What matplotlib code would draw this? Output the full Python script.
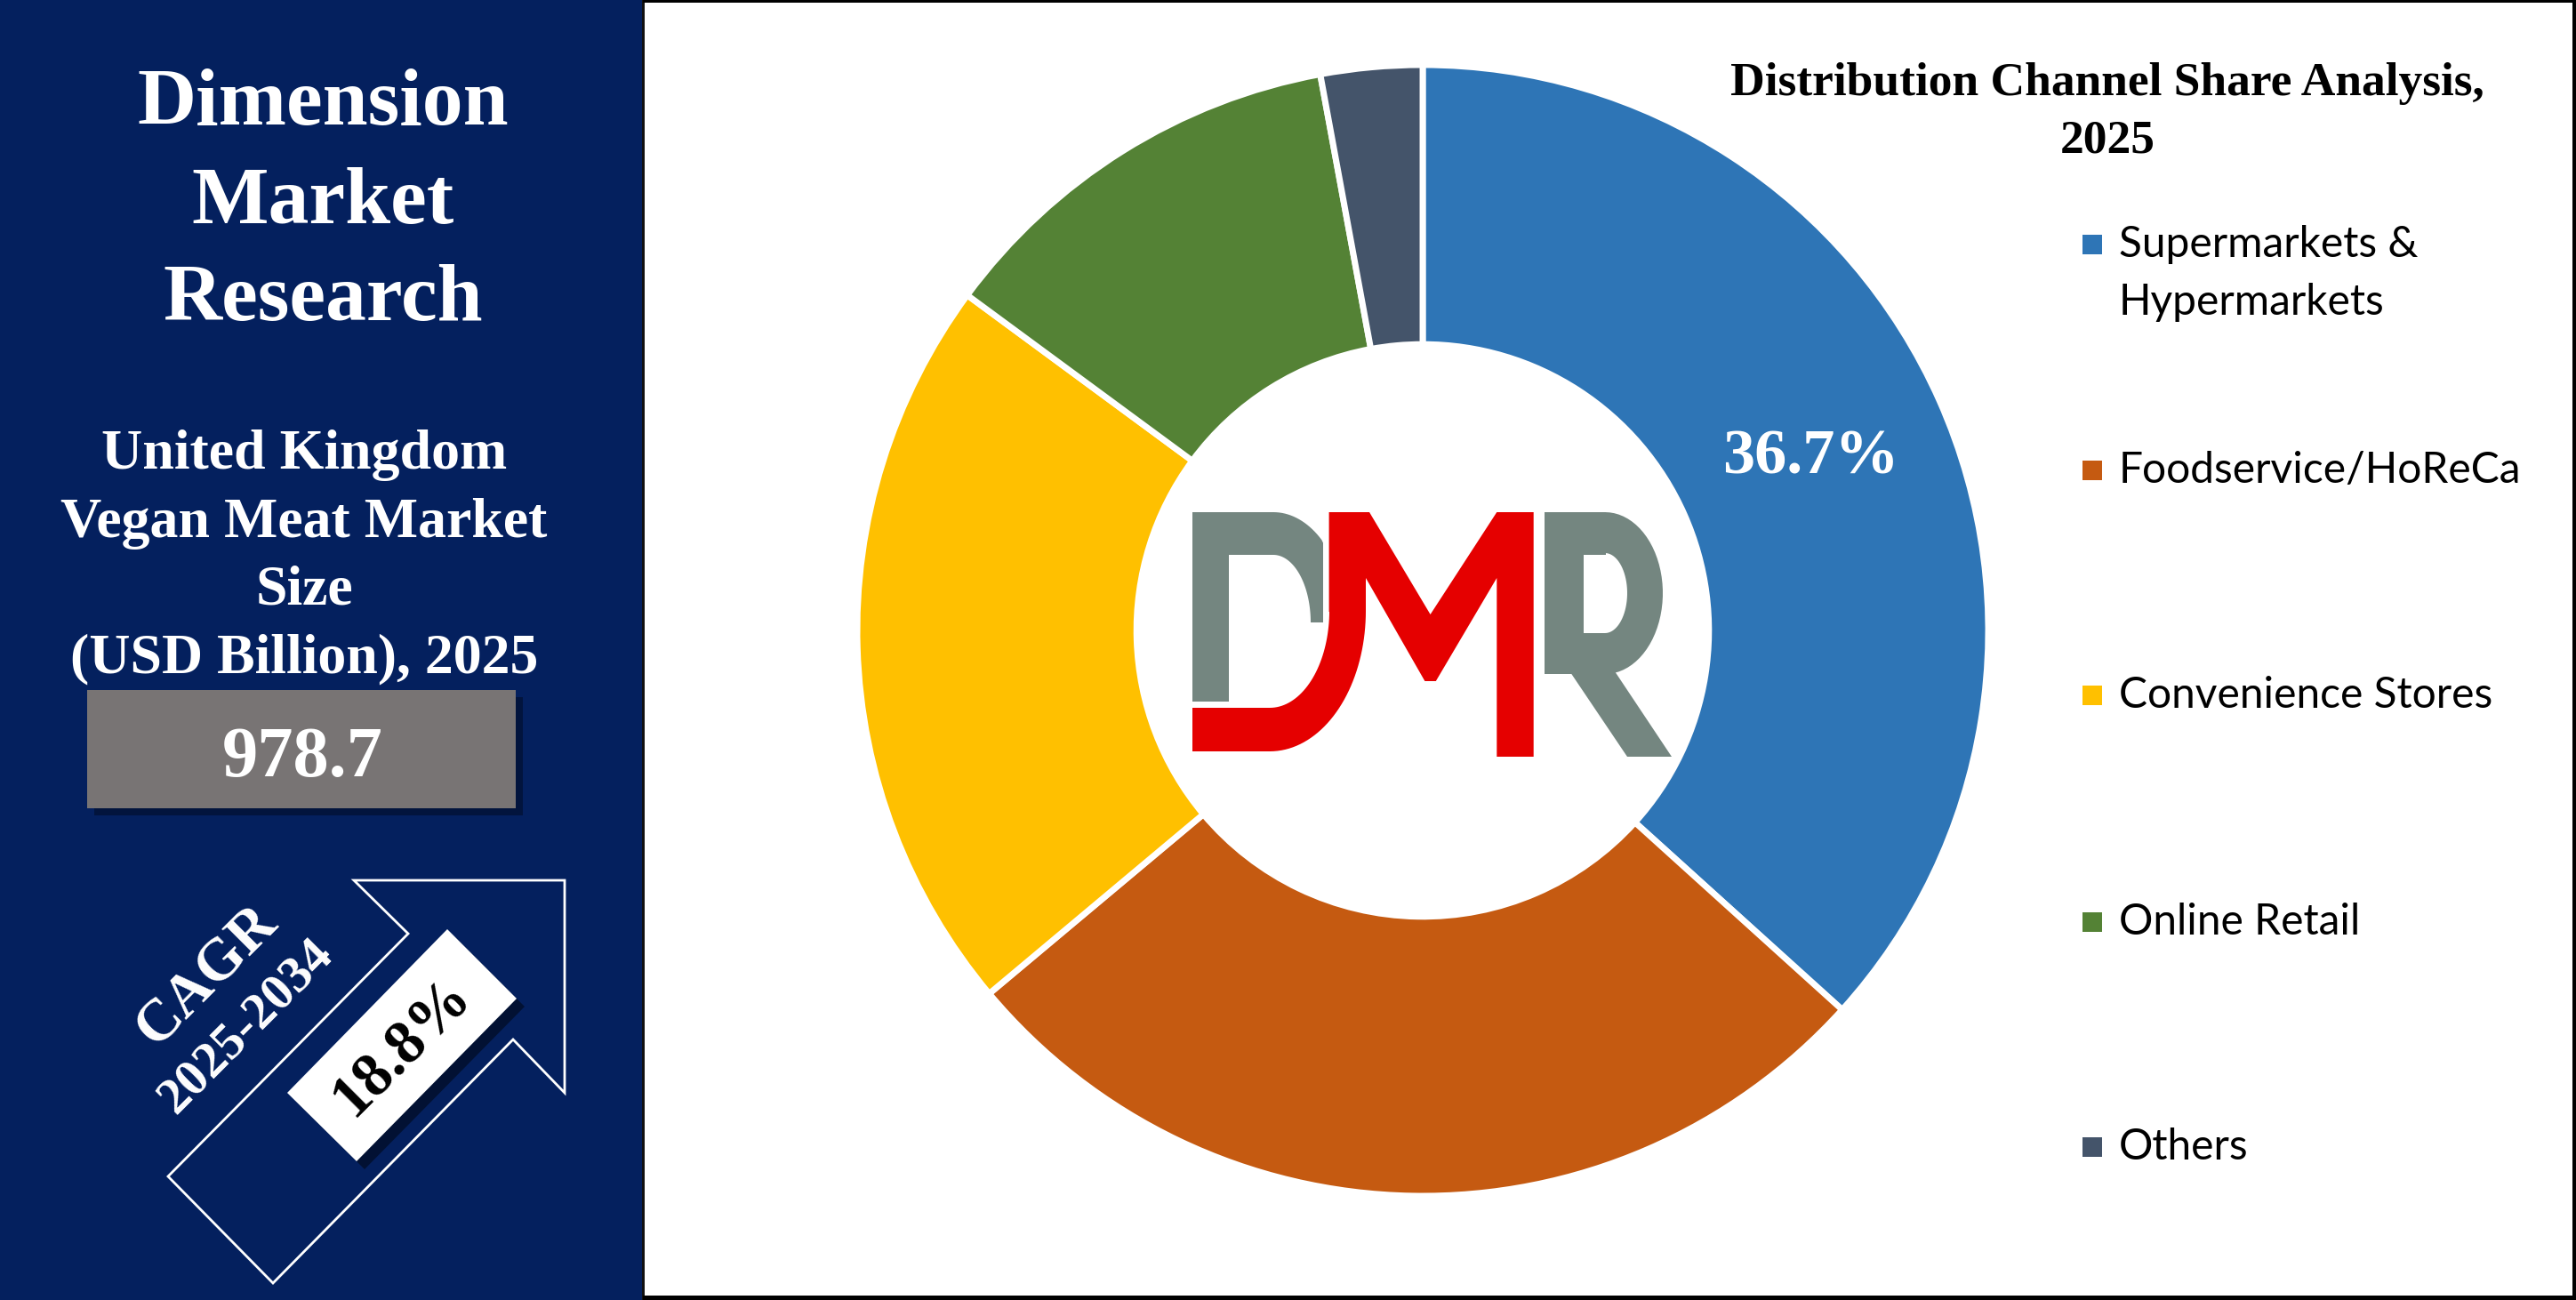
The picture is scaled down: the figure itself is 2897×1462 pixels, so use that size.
import numpy as np
import matplotlib.pyplot as plt
from matplotlib.patches import Rectangle, Polygon

W, H = 2897, 1462

# data
channels = ['Supermarkets &\nHypermarkets', 'Foodservice/HoReCa', 'Convenience Stores',
            'Online Retail', 'Others']
shares = [36.7, 27.2, 21.2, 12.0, 2.9]
colors = ['#2E75B6', '#C55A11', '#FFC000', '#548235', '#44546A']
market_size = '978.7'
cagr = '18.8%'
cagr_period = '2025-2034'
brand_lines = ['Dimension', 'Market', 'Research']
size_lines = ['United Kingdom', 'Vegan Meat Market', 'Size', '(USD Billion), 2025']
chart_title = ['Distribution Channel Share Analysis,', '2025']

serif = ['Liberation Serif', 'DejaVu Serif']
sans = ['Lato', 'DejaVu Sans']
navy = '#04205E'

fig = plt.figure(figsize=(W / 100, H / 100), dpi=100)
fig.patch.set_facecolor('white')

# overlay axes in pixel coords (y down)
ov = fig.add_axes([0, 0, 1, 1])
ov.set_xlim(0, W)
ov.set_ylim(H, 0)
ov.axis('off')

# left panel
ov.add_patch(Rectangle((0, 0), 723, H, fc=navy, ec='none'))
# frame of the chart panel
ov.add_patch(Rectangle((722, 0), 3, H, fc='#111111', ec='none'))
ov.add_patch(Rectangle((723, 0), W - 723, 3, fc='black', ec='none'))
ov.add_patch(Rectangle((723, 1457), W - 723, 5, fc='black', ec='none'))
ov.add_patch(Rectangle((2893, 0), 4, H, fc='black', ec='none'))

for txt, yb in zip(brand_lines, [140, 251, 360]):
    ov.text(363, yb, txt, ha='center', va='baseline', fontsize=66, color='white',
            fontweight='bold', family=serif)
for txt, yb in zip(size_lines, [527, 604, 679, 756]):
    ov.text(342, yb, txt, ha='center', va='baseline', fontsize=46, color='white',
            fontweight='bold', family=serif)

# value box
ov.add_patch(Rectangle((106, 784), 482, 133, fc='black', ec='none', alpha=0.35))
ov.add_patch(Rectangle((98, 776), 482, 133, fc='#787474', ec='none'))
ov.text(340, 873, market_size, ha='center', va='baseline', fontsize=58, color='white',
        fontweight='bold', family=serif)

# CAGR arrow
arrow = [(307, 1443), (189, 1323), (459, 1050), (398, 990), (635, 990),
         (635, 1229), (577, 1169)]
ov.add_patch(Polygon(arrow, closed=True, fill=False, ec='white', lw=2))
box = [(503, 1045), (581, 1123), (401, 1306), (323, 1229)]
ov.add_patch(Polygon([(x + 9, y + 9) for x, y in box], fc='black', ec='none', alpha=0.45))
ov.add_patch(Polygon(box, fc='white', ec='none'))
ov.text(452, 1178, cagr, ha='center', va='center', rotation=45, rotation_mode='anchor',
        fontsize=50, color='black', fontweight='bold', family=serif)
ov.text(233, 1098, 'CAGR', ha='center', va='center', rotation=45, rotation_mode='anchor',
        fontsize=48, color='white', fontweight='bold', family=serif)
ov.text(277, 1154, cagr_period, ha='center', va='center', rotation=45, rotation_mode='anchor',
        fontsize=42, color='white', fontweight='bold', family=serif)

# title
ov.text(2370, 94, chart_title[0], ha='center', va='center', fontsize=38.5, color='black',
        fontweight='bold', family=serif)
ov.text(2370, 159, chart_title[1], ha='center', va='center', fontsize=38.5, color='black',
        fontweight='bold', family=serif)

# legend
leg_y = [275, 529, 782, 1037, 1290]
for name, col, y in zip(channels, colors, leg_y):
    ov.add_patch(Rectangle((2342, y - 11), 22, 22, fc=col, ec='none'))
    lines = name.split('\n')
    for i, ln in enumerate(lines):
        ov.text(2383, y + i * 65, ln, ha='left', va='center', fontsize=34.5, color='black',
                family=sans)

# DMR logo
def ring(cx, cy, rxo, ryo, rxi, ryi, a0, a1, n=40):
    t = np.radians(np.linspace(a0, a1, n))
    outer = list(zip(cx + rxo * np.cos(t), cy + ryo * np.sin(t)))
    inner = list(zip(cx + rxi * np.cos(t[::-1]), cy + ryi * np.sin(t[::-1])))
    return outer + inner

gray = '#748680'
red = '#E50000'
# D (gray part)
ov.add_patch(Rectangle((1341, 576), 41, 213, fc=gray, ec='none'))
ov.add_patch(Rectangle((1341, 576), 92, 48, fc=gray, ec='none'))
bowl = np.array(ring(1432, 700, 82, 124, 42, 76, -90, 0))
bowl[:, 0] = np.minimum(bowl[:, 0], 1488)
ov.add_patch(Polygon(bowl, fc=gray, ec='none'))
# red J of D
ov.add_patch(Rectangle((1341, 796), 88, 49, fc=red, ec='none'))
ov.add_patch(Polygon(ring(1428, 687, 108, 158, 67, 109, 0, 90), fc=red, ec='none'))
# M
m_shape = [(1494.6, 576), (1540, 576), (1608.6, 691), (1683.3, 576), (1724.7, 576),
           (1724.7, 851), (1683.3, 851), (1683.3, 650), (1614.8, 766), (1602.4, 766),
           (1536, 650), (1536, 688), (1494.6, 688)]
ov.add_patch(Polygon(m_shape, fc=red, ec='none'))
# R
ov.add_patch(Rectangle((1737, 576), 44, 182, fc=gray, ec='none'))
ov.add_patch(Rectangle((1737, 576), 69, 48, fc=gray, ec='none'))
ov.add_patch(Rectangle((1780, 712), 26, 46, fc=gray, ec='none'))
ov.add_patch(Polygon(ring(1805, 667, 65, 91, 25, 45, -90, 90), fc=gray, ec='none'))
ov.add_patch(Polygon([(1766, 756), (1814, 752), (1880, 851), (1830, 851)], fc=gray, ec='none'))

# donut
cx, cy, R = 1600, 709, 636
pad = 1.03
pa = fig.add_axes([(cx - R * pad) / W, (H - cy - R * pad) / H, 2 * R * pad / W, 2 * R * pad / H])
pa.set_facecolor('none')
pa.pie(shares, colors=colors, startangle=90, counterclock=False, radius=1.0,
       wedgeprops=dict(width=0.494, edgecolor='white', linewidth=5))
pa.set_xlim(-pad, pad)
pa.set_ylim(-pad, pad)
pa.axis('off')

mid = np.radians(90 - shares[0] / 2 / 100 * 360)
pa.text(0.75 * np.cos(mid), 0.75 * np.sin(mid), f'{shares[0]}%', ha='center', va='center',
        fontsize=52, color='white', fontweight='bold', family=serif)

fig.savefig('out.png', dpi=100)
